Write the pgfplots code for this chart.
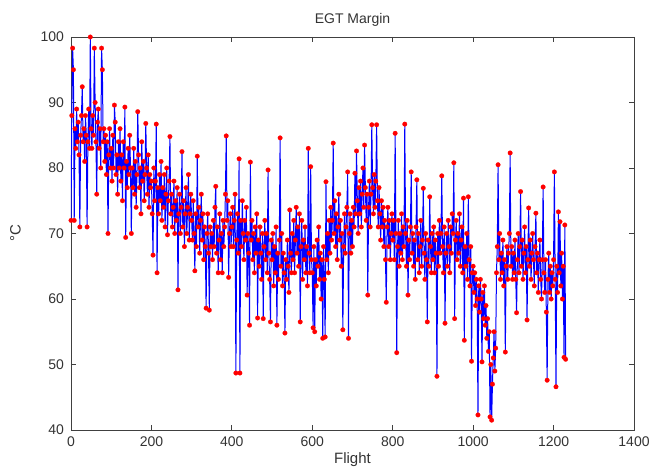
\documentclass[border=0pt]{standalone}
\usepackage{fontspec}
\setmainfont{Liberation Sans}
\usepackage{pgfplots}
\pgfplotsset{compat=1.18}
\usepackage{pgfplotstable}
\pgfplotstableread[header=false]{
72
88
98.3
95
72
86
83
89
84
87
82
71
85
88
92.4
84
86
81
88
85
71
84
89
83
100
86
83
88
85
98.3
90
84
76
87
89
83
86
80
98.3
95
84
86
81
85
79
84
70
82
86
80
83
78
85
80
89.6
87
79
82
76
84
80
86
78
82
75
84
80
89.3
69.4
81
77
83
79
85
80
70
80
77
83
76
81
74
79
88.6
82
77
80
73
84
78
81
75
79
86.8
80
76
82
74
79
77
78
73
66.7
80
75
78
86.7
64
77
73
79
75
81
72
77
74
79
71
76
80
69.8
75
78
84.8
73
76
71
74
78
70
75
72
77
61.4
73
76
70
74
82.5
71
75
68
73
77
70
74
79
69
73
76
72
69
75
70
64.3
73
68
81.8
71
74
67
72
76
69
73
66
71
68
58.6
70
73
67
58.3
71
68
70
66
72
68
74
77.2
67
71
64
69
73
66
70
64
72
68
71
76
84.9
72
75
63.3
70
73
68
71
74
68
72
76
48.7
69
73
67
81.4
48.7
72
68
75
70
66
72
69
74
60.6
70
67
56
80.9
69
72
66
70
64
71
67
73
57.1
69
65
71
67
63
70
57
68
72
66
70
64
79.7
67
63
56.5
69
66
70
62
68
64
71
56
67
63
69
84.6
65
70
62
67
64
54.8
66
63
69
65
61
73.6
67
64
70
66
72
64
69
74
67
71
65
73
56.5
68
72
63
69
66
71
64
68
62
83
67
64
80.2
66
64
55.6
68
55
66
62
69
65
71
63
67
60
66
54
68
63
54.2
77.9
66
70
64
72
67
74
69
72
83.8
70
75
68
73
66
71
76
69
72
65
70
55.3
68
73
67
71
74
79.4
54
70
73
67
72
68
74
71
79.2
73
82.6
75
70
77
73
78
71
76
80
74
83.5
77
72
76
60.6
74
78
71
76
86.6
77
73
79
74
78
86.6
75
71
77
73
69
75
71
74
68
72
66
59.5
71
74
68
72
66
70
73
69
72
66
85.3
70
51.8
68
72
65
70
67
73
66
71
68
86.7
70
65
72
60.6
69
66
71
79.4
67
70
65
69
63
71
78.2
66
70
64
68
72
65
69
76.9
67
63
70
66
56.5
69
65
75.6
68
64
70
66
71
64
69
67
48.2
70
65
72
67
70
78.8
68
64
71
56.3
67
70
65
72
68
64
71
67
73
70
80.8
57
69
72
66
70
67
73
65
69
71
64
75.4
53.7
68
65
70
63
75.6
66
62
68
50.5
64
65
61
64
59
63
60
42.3
62
58
63
60
50.4
61
57
62
56
59
54
57
52
55
42
50
41.5
47
51
55
49
52.5
64
68
80.5
66
70
63
67
64
69
62
66
51.9
65
68
63
67
70
82.3
65
68
63
67
64
69
63
57.9
66
70
64
68
76.4
65
69
63
67
71
64
68
56.8
66
73.9
65
69
63
67
70
66
62
68
73.1
64
67
61
66
69
63
60
66
77.1
64
61
66
58
47.6
63
67
61
65
60
64
62
66
79.4
63
46.6
65
61
73.3
64
71.8
62
67
60
65
51.1
71.3
50.8
}\egt
\begin{document}
\begin{tikzpicture}
\begin{axis}[
  scale only axis,
  width=281.5pt, height=196.5pt,
  xmin=0, xmax=1400, ymin=40, ymax=100,
  xtick={0,200,...,1400}, ytick={40,50,...,100},
  tick align=inside,
  major tick length=2.5pt,
  axis line style={draw=black!75, line width=0.45pt},
  every tick/.style={draw=black!75, line width=0.4pt},
  tick label style={font=\fontsize{7}{8}\selectfont, text=black!80},
  /pgf/number format/assume math mode=true,
  /pgf/number format/1000 sep={},
  scaled ticks=false,
  title={EGT Margin},
  title style={font=\fontsize{7}{8}\selectfont, text=black!80, yshift=-4pt},
  xlabel={Flight},
  ylabel={°C},
  label style={font=\fontsize{7.5}{8}\selectfont, text=black!80},
  xlabel style={yshift=4pt},
  ylabel style={yshift=3pt},
  clip=true,
]
\addplot[blue, line width=0.5pt, mark=*, mark size=1.15pt,
  mark options={draw=red, fill=red, line width=0.1pt}]
  table[x expr=2*\coordindex, y index=0] {\egt};
\end{axis}
\pgfresetboundingbox
\path (-35.5pt,-20pt) rectangle (290.5pt,215pt);
\end{tikzpicture}
\end{document}
